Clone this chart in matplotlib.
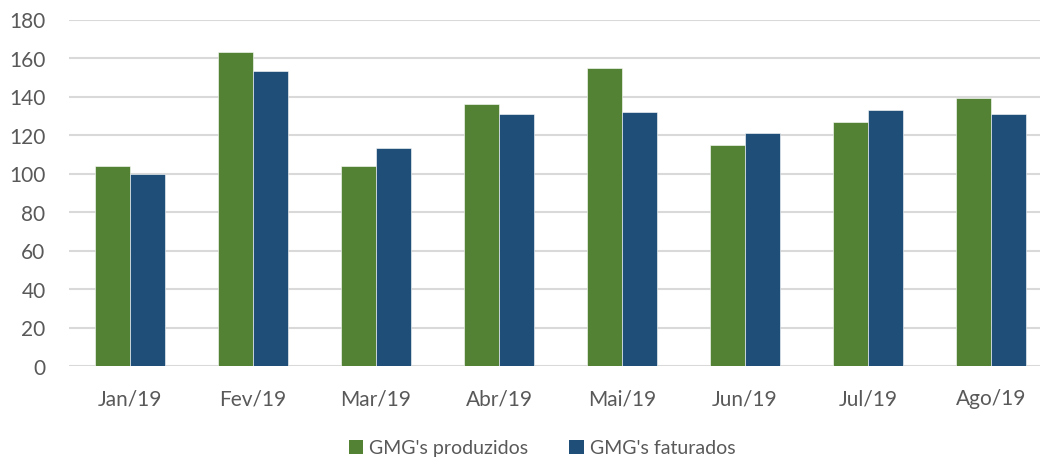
import matplotlib
matplotlib.use("Agg")
import matplotlib.pyplot as plt
import numpy as np
from matplotlib.patches import Patch

categories = ["Jan/19", "Fev/19", "Mar/19", "Abr/19", "Mai/19", "Jun/19", "Jul/19", "Ago/19"]
produzidos = [104, 163, 104, 136, 155, 115, 127, 139]
faturados = [100, 153, 113, 131, 132, 121, 133, 131]
series_names = ["GMG's produzidos", "GMG's faturados"]
yticks = [0, 20, 40, 60, 80, 100, 120, 140, 160, 180]

GREEN = "#548235"
BLUE = "#1F4E79"
TXT = "#595959"
GRID = "#D9D9D9"

plt.rcParams['font.family'] = ['Lato', 'DejaVu Sans']

W, H = 1041, 460
fig = plt.figure(figsize=(W/100, H/100), dpi=100)
left = 68.5 / W
right = 1040 / W
bottom = (H - 367) / H
top = (H - 20.5) / H
ax = fig.add_axes([left, bottom, right - left, top - bottom])

x = np.arange(len(categories))
bw = 35 / 123
ax.bar(x - bw/2, produzidos, width=bw, color=GREEN, edgecolor="white", linewidth=0.4, zorder=3)
ax.bar(x + bw/2, faturados, width=bw, color=BLUE, edgecolor="white", linewidth=0.4, zorder=3)

ax.set_ylim(0, 180)
ax.set_xlim(-0.5, 7.5 - (1052.5 - 1040) / 123)
ax.set_yticks(yticks)
ax.set_xticks(x)
ax.set_xticklabels(categories)
ax.yaxis.grid(True, color=GRID, linewidth=1.5, zorder=0)
ax.set_axisbelow(True)
for s in ["top", "right", "left", "bottom"]:
    ax.spines[s].set_visible(False)
ax.tick_params(axis="both", length=0, colors=TXT, labelsize=15)
ax.tick_params(axis="y", pad=16.5)
ax.tick_params(axis="x", pad=16)

handles = [Patch(facecolor=GREEN), Patch(facecolor=BLUE)]
fig.legend(handles, series_names, loc="center", bbox_to_anchor=(542 / W, (H - 449) / H),
           ncol=2, frameon=False, fontsize=14, labelcolor=TXT,
           handlelength=0.75, handleheight=0.75, handletextpad=0.3, columnspacing=2.1)

fig.savefig("out.png", dpi=100)
